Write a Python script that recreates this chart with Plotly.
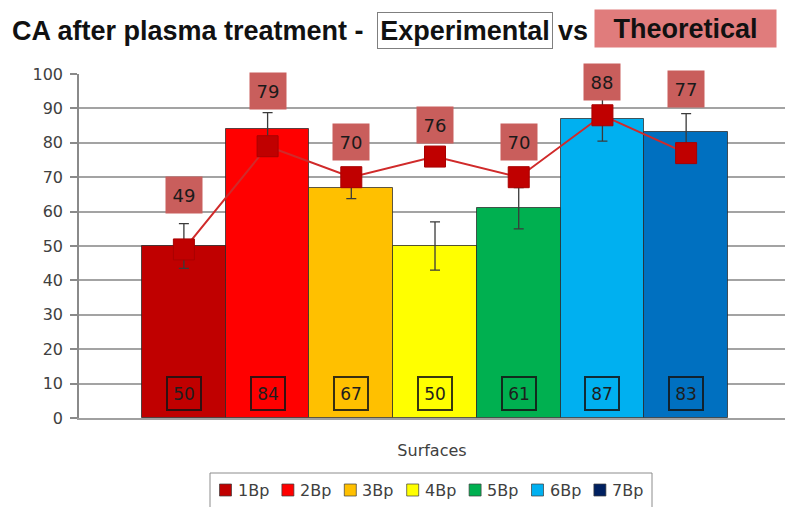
import plotly.graph_objects as go

# Surface series
surfaces = ["1Bp", "2Bp", "3Bp", "4Bp", "5Bp", "6Bp", "7Bp"]
experimental = [50, 84, 67, 50, 61, 87, 83]
experimental_err = [6.5, 4.8, 3.2, 7.0, 6.0, 6.5, 5.5]
theoretical = [49, 79, 70, 76, 70, 88, 77]
bar_colors = ["#C00000", "#FF0000", "#FFC000", "#FFFF00", "#00B050", "#00B0F0", "#0070C0"]
legend_colors = ["#C00000", "#FF0000", "#FFC000", "#FFFF00", "#00B050", "#00B0F0", "#002060"]
y_ticks = [0, 10, 20, 30, 40, 50, 60, 70, 80, 90, 100]
# vertical offset (px) of each theoretical value box above its marker
label_offsets = [54, 55, 35, 32, 35, 33, 64]

W, H = 785, 507
L, R, T, B = 79, 0, 74, 89
pw = W - L - R
ph = H - T - B


def px_x(px):
    return (px - L) / pw


def px_y(py):
    return (H - B - py) / ph


positions = list(range(len(surfaces)))
fig = go.Figure()

for i, name in enumerate(surfaces):
    fig.add_trace(go.Bar(
        x=[positions[i]], y=[experimental[i]], width=1.0, name=name,
        marker=dict(color=bar_colors[i], line=dict(color="rgba(40,40,40,0.75)", width=1)),
        error_y=dict(type="data", array=[experimental_err[i]], color="#3a3a3a",
                     thickness=1.3, width=5),
        showlegend=False, hoverinfo="skip",
    ))

fig.add_trace(go.Scatter(
    x=positions, y=theoretical, mode="lines+markers",
    line=dict(color="#D02A2A", width=2),
    marker=dict(symbol="square", size=21, color="#C00000",
                line=dict(color="#A80000", width=1)),
    showlegend=False, hoverinfo="skip",
))

annotations = []
shapes = []
# theoretical value boxes above markers
for i, v in enumerate(theoretical):
    annotations.append(dict(
        x=positions[i], y=v, xref="x", yref="y", text=str(v), showarrow=False,
        yshift=label_offsets[i], font=dict(family="DejaVu Sans", size=18, color="#1a1a1a"),
        bgcolor="#C95E5C", width=32, height=32, borderpad=2,
    ))
# experimental value boxes at the bottom of bars
for i, v in enumerate(experimental):
    annotations.append(dict(
        x=positions[i], y=7.1, xref="x", yref="y", text=str(v), showarrow=False,
        font=dict(family="DejaVu Sans", size=17, color="#1e1e1e"),
        bordercolor="rgba(20,20,20,0.85)", borderwidth=2, borderpad=1,
        width=30, height=29,
    ))

# heading
title_font = dict(family="Liberation Sans", size=27, color="#111111")
annotations += [
    dict(x=px_x(10), y=px_y(31), xref="paper", yref="paper", xanchor="left", yanchor="middle",
         text="<b>CA after plasma treatment - </b>", showarrow=False, font=title_font),
    dict(x=px_x(465), y=px_y(30.5), xref="paper", yref="paper", xanchor="center", yanchor="middle",
         text="<b>Experimental</b>", showarrow=False, bgcolor="white",
         bordercolor="#7f7f7f", borderwidth=1, borderpad=0, width=174, height=35,
         font=title_font),
    dict(x=px_x(556), y=px_y(31), xref="paper", yref="paper", xanchor="left", yanchor="middle",
         text="<b>vs</b>", showarrow=False, font=title_font),
    dict(x=px_x(685.5), y=px_y(28.5), xref="paper", yref="paper", xanchor="center", yanchor="middle",
         text="<b>Theoretical</b>", showarrow=False, bgcolor="#E07C7C",
         borderpad=0, width=181, height=37, font=title_font),
]

# legend box with one swatch + label per surface
shapes.append(dict(type="rect", xref="paper", yref="paper",
                   x0=px_x(210), x1=px_x(652), y0=px_y(510), y1=px_y(473),
                   line=dict(color="#8c8c8c", width=1), fillcolor="white", layer="above"))
for i, name in enumerate(surfaces):
    cx = 225.5 + 62.4 * i
    shapes.append(dict(type="rect", xref="paper", yref="paper",
                       x0=px_x(cx - 6), x1=px_x(cx + 6), y0=px_y(496), y1=px_y(484),
                       line=dict(color="rgba(60,60,60,0.7)", width=1),
                       fillcolor=legend_colors[i], layer="above"))
    annotations.append(dict(x=px_x(cx + 10), y=px_y(490), xref="paper", yref="paper",
                            xanchor="left", yanchor="middle", text=name, showarrow=False,
                            font=dict(family="DejaVu Sans", size=16, color="#404040")))

fig.update_layout(
    width=W, height=H,
    margin=dict(l=L, r=R, t=T, b=B, autoexpand=False),
    paper_bgcolor="white", plot_bgcolor="white",
    barmode="overlay", bargap=0, showlegend=False,
    annotations=annotations, shapes=shapes,
    font=dict(family="DejaVu Sans", color="#404040"),
    xaxis=dict(
        range=[-1.253, 7.181], showgrid=False, zeroline=False,
        showticklabels=False, ticks="",
        showline=True, linecolor="#a0a0a0", linewidth=1.5,
        title=dict(text="Surfaces", font=dict(family="DejaVu Sans", size=16, color="#404040"),
                   standoff=26),
    ),
    yaxis=dict(
        range=[0, 100], tickvals=y_ticks, showgrid=True, gridcolor="#a3a3a3", gridwidth=1.5,
        zeroline=False, showline=True, linecolor="#8a8a8a", linewidth=1.5,
        ticks="outside", ticklen=7, tickcolor="#8a8a8a", tickwidth=1.5,
        tickfont=dict(family="DejaVu Sans", size=16, color="#404040"),
        ticklabelstandoff=4,
    ),
)

fig.write_html("out.html")
